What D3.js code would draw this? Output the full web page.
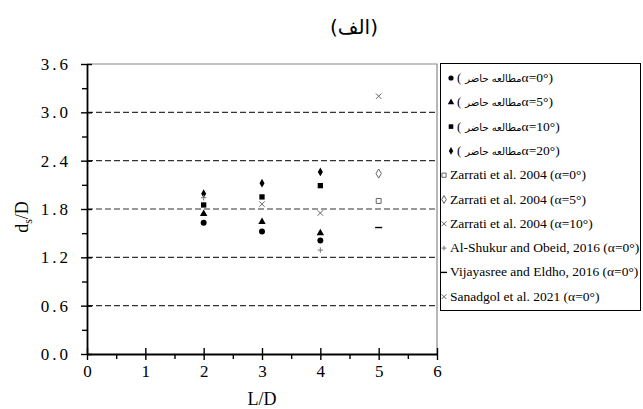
<!DOCTYPE html>
<html>
<head>
<meta charset="utf-8">
<script src="https://cdn.jsdelivr.net/npm/d3@7"></script>
<style>
  html, body { margin: 0; padding: 0; background: #fff; }
  svg { display: block; }
</style>
</head>
<body>
<svg id="chart" width="643" height="409"></svg>
<script>
// L/D positions of the present experiments
const presentL = [2, 3, 4];
// d_s/D, present study, per skew angle
const present0 = [1.63, 1.52, 1.41];
const present5 = [1.74, 1.64, 1.50];
const present10 = [1.85, 1.95, 2.09];
const present20 = [1.99, 2.12, 2.26];
// literature results: [L/D, d_s/D]
const zarrati0 = [[5, 1.90]];
const zarrati5 = [[5, 2.24]];
const zarrati10 = [[5, 3.20]];
const alShukur0 = [[2, 1.94], [4, 1.29]];
const vijayasree0 = [[5, 1.57]];
const sanadgol0 = [[3, 1.86], [4, 1.75]];

const xTicks = [0, 1, 2, 3, 4, 5, 6];
const yTicks = [0, 0.6, 1.2, 1.8, 2.4, 3.0, 3.6];
const yMinor = [0.3, 0.9, 1.5, 2.1, 2.7, 3.3];
const xMinor = [0.5, 1.5, 2.5, 3.5, 4.5, 5.5];

const presentName = "مطالعه حاضر";
const legendLabels = [
  "α=0°)",
  "α=5°)",
  "α=10°)",
  "α=20°)",
  "Zarrati et al. 2004 (α=0°)",
  "Zarrati et al. 2004 (α=5°)",
  "Zarrati et al. 2004 (α=10°)",
  "Al-Shukur and Obeid, 2016 (α=0°)",
  "Vijayasree and Eldho, 2016 (α=0°)",
  "Sanadgol et al. 2021 (α=0°)"
];

const SERIF = "Liberation Serif, Times New Roman, serif";
const svg = d3.select("#chart");
const plotL = 87, plotR = 437, plotT = 64, plotB = 354;
const x = d3.scaleLinear().domain([0, 6]).range([plotL, plotR]);
const y = d3.scaleLinear().domain([0, 3.6]).range([plotB, plotT]);

// custom symbol shapes
const crossX = { draw(ctx, size) { const r = Math.sqrt(size) / 2;
  ctx.moveTo(-r, -r); ctx.lineTo(r, r); ctx.moveTo(r, -r); ctx.lineTo(-r, r); } };
const plus = { draw(ctx, size) { const r = Math.sqrt(size) / 2;
  ctx.moveTo(-r, 0); ctx.lineTo(r, 0); ctx.moveTo(0, -r); ctx.lineTo(0, r); } };
const dash = { draw(ctx, size) { const r = Math.sqrt(size) / 2;
  ctx.moveTo(-r, 0); ctx.lineTo(r, 0); } };

const styles = [
  { type: d3.symbolCircle, size: 28, fill: "#000", stroke: "none" },
  { type: d3.symbolTriangle, size: 24, fill: "#000", stroke: "none" },
  { type: d3.symbolSquare, size: 28, fill: "#000", stroke: "none" },
  { type: d3.symbolDiamond, size: 22, fill: "#000", stroke: "none" },
  { type: d3.symbolSquare, size: 24, fill: "#fff", stroke: "#555", sw: 0.9 },
  { type: d3.symbolDiamond, size: 24, fill: "#fff", stroke: "#555", sw: 0.9 },
  { type: crossX, size: 30, fill: "none", stroke: "#666", sw: 1 },
  { type: plus, size: 30, fill: "none", stroke: "#777", sw: 1 },
  { type: dash, size: 50, fill: "none", stroke: "#000", sw: 1.4 },
  { type: crossX, size: 30, fill: "none", stroke: "#666", sw: 1 }
];

const series = [
  presentL.map((l, i) => [l, present0[i]]),
  presentL.map((l, i) => [l, present5[i]]),
  presentL.map((l, i) => [l, present10[i]]),
  presentL.map((l, i) => [l, present20[i]]),
  zarrati0, zarrati5, zarrati10, alShukur0, vijayasree0, sanadgol0
];

// horizontal dashed grid
svg.append("g").selectAll("line")
  .data(yTicks.filter(v => v > 0 && v < 3.6))
  .join("line")
  .attr("x1", plotL).attr("x2", plotR)
  .attr("y1", d => y(d)).attr("y2", d => y(d))
  .attr("stroke", "#333").attr("stroke-width", 1.2)
  .attr("stroke-dasharray", "6,3");

// top and right frame
svg.append("path")
  .attr("d", `M${plotL},${plotT}H${plotR}V${plotB}`)
  .attr("fill", "none").attr("stroke", "#888").attr("stroke-width", 1.2);

// axes
const axisStyle = g => {
  g.select(".domain").attr("stroke", "#000").attr("stroke-width", 1.8);
  g.selectAll(".tick line").attr("stroke", "#000").attr("stroke-width", 1.4);
  g.selectAll("text").attr("font-family", SERIF)
    .attr("font-size", 17).attr("fill", "#000");
};
const tickStyle = g => {
  g.select(".domain").remove();
  g.selectAll(".tick line").attr("stroke", "#000").attr("stroke-width", 1.4);
};

svg.append("g").attr("transform", `translate(${plotL},0)`)
  .call(d3.axisLeft(y).tickValues(yMinor).tickSize(5).tickFormat(""))
  .call(tickStyle);
svg.append("g").attr("transform", `translate(${plotL},0)`)
  .call(d3.axisRight(y).tickValues(yTicks).tickSize(5).tickFormat(""))
  .call(tickStyle);
svg.append("g").attr("transform", `translate(${plotL},0)`)
  .call(d3.axisLeft(y).tickValues(yTicks).tickSize(6).tickSizeOuter(0).tickPadding(10)
    .tickFormat(d3.format(".1f")))
  .call(axisStyle)
  .call(g => g.selectAll("text").style("letter-spacing", "3px"));

svg.append("g").attr("transform", `translate(0,${plotB})`)
  .call(d3.axisBottom(x).tickValues(xMinor).tickSize(5).tickFormat(""))
  .call(tickStyle);
svg.append("g").attr("transform", `translate(0,${plotB})`)
  .call(d3.axisTop(x).tickValues(xTicks).tickSize(6).tickFormat(""))
  .call(tickStyle);
svg.append("g").attr("transform", `translate(0,${plotB})`)
  .call(d3.axisBottom(x).tickValues(xTicks).tickSize(6).tickSizeOuter(0).tickPadding(5)
    .tickFormat(d3.format("d")))
  .call(axisStyle);

// axis titles
svg.append("text").attr("x", x(3)).attr("y", 405)
  .attr("text-anchor", "middle").attr("font-family", SERIF).attr("font-size", 18).text("L/D");
const yt = svg.append("text").attr("transform", `translate(28,217) rotate(-90)`)
  .attr("text-anchor", "middle").attr("font-family", SERIF).attr("font-size", 18);
yt.append("tspan").text("d");
yt.append("tspan").attr("font-size", 12).attr("dy", 4).text("s");
yt.append("tspan").attr("dy", -4).text("/D");

// title
svg.append("text").attr("x", 354).attr("y", 34).attr("text-anchor", "middle")
  .attr("font-family", "DejaVu Sans, sans-serif").attr("font-size", 20)
  .text("(الف)");

// data markers
const sym = d3.symbol();
series.forEach((pts, i) => {
  const s = styles[i];
  svg.append("g").selectAll("path").data(pts).join("path")
    .attr("transform", d => `translate(${x(d[0])},${y(d[1])})`)
    .attr("d", sym.type(s.type).size(s.size)())
    .attr("fill", s.fill).attr("stroke", s.stroke).attr("stroke-width", s.sw || 0);
});

// legend
const lg = svg.append("g");
lg.append("rect").attr("x", 440.5).attr("y", 63.5).attr("width", 200).attr("height", 247)
  .attr("fill", "#fff").attr("stroke", "#000").attr("stroke-width", 1);
legendLabels.forEach((label, i) => {
  const s = styles[i];
  const cy = 78 + i * 24.3;
  const arabic = i < 4;
  const sx = arabic ? 451 : 444;
  lg.append("path").attr("transform", `translate(${sx},${cy})`)
    .attr("d", sym.type(s.type).size(s.size * 0.75)())
    .attr("fill", s.fill).attr("stroke", s.stroke).attr("stroke-width", s.sw || 0);
  let tx = sx + 6;
  if (arabic) {
    const p = lg.append("text").attr("x", tx).attr("y", cy + 4)
      .attr("font-family", SERIF).attr("font-size", 13).text("(");
    tx += p.node().getComputedTextLength() + 4;
    const a = lg.append("text").attr("x", tx).attr("y", cy + 4)
      .attr("font-family", "DejaVu Sans, sans-serif").attr("font-size", 10)
      .text(presentName);
    tx += a.node().getComputedTextLength();
  }
  lg.append("text").attr("x", tx).attr("y", cy + 4)
    .attr("font-family", SERIF).attr("font-size", 13.5).text(label);
});
</script>
</body>
</html>
